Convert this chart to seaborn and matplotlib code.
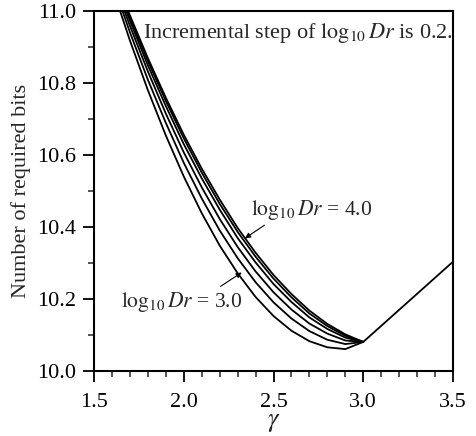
import numpy as np
import pandas as pd
import matplotlib
matplotlib.use("Agg")
import matplotlib.pyplot as plt
import seaborn as sns
from matplotlib.ticker import MultipleLocator

# ---- data ----
gamma = [1.6, 1.7, 1.8, 1.9, 2.0, 2.1, 2.2, 2.3, 2.4, 2.5, 2.6, 2.7, 2.8, 2.9, 3.0]
log_dr = ["3.0", "3.2", "3.4", "3.6", "3.8", "4.0"]
bits_30 = [11.068, 10.918, 10.780, 10.654, 10.540, 10.438, 10.348, 10.271, 10.205, 10.152, 10.111, 10.082, 10.065, 10.060, 10.080]
bits_32 = [11.084, 10.941, 10.809, 10.689, 10.578, 10.479, 10.390, 10.313, 10.246, 10.190, 10.145, 10.110, 10.086, 10.074, 10.080]
bits_34 = [11.095, 10.959, 10.832, 10.715, 10.607, 10.510, 10.422, 10.344, 10.276, 10.218, 10.170, 10.131, 10.103, 10.084, 10.080]
bits_36 = [11.105, 10.973, 10.849, 10.736, 10.630, 10.535, 10.448, 10.369, 10.301, 10.241, 10.191, 10.148, 10.116, 10.092, 10.080]
bits_38 = [11.111, 10.982, 10.861, 10.750, 10.646, 10.551, 10.464, 10.386, 10.317, 10.256, 10.204, 10.159, 10.124, 10.097, 10.080]
bits_40 = [11.115, 10.988, 10.869, 10.759, 10.656, 10.562, 10.476, 10.397, 10.328, 10.266, 10.213, 10.167, 10.130, 10.101, 10.080]
gamma_right = [3.0, 3.5]
bits_right = [10.080, 10.303]

series = [bits_30, bits_32, bits_34, bits_36, bits_38, bits_40]
rows = []
for name, vals in zip(log_dr, series):
    for g, v in zip(gamma, vals):
        rows.append({"gamma": g, "bits": v, "curve": name})
for g, v in zip(gamma_right, bits_right):
    rows.append({"gamma": g, "bits": v, "curve": "shared"})
df = pd.DataFrame(rows)

sns.set_style("ticks")
plt.rcParams["font.family"] = ["Liberation Serif", "DejaVu Serif"]
plt.rcParams["mathtext.fontset"] = "stix"

fig = plt.figure(figsize=(4.76, 4.36), dpi=100)
ax = fig.add_axes([0.1975, 0.1498, 0.7542, 0.825])

sns.lineplot(data=df, x="gamma", y="bits", units="curve", estimator=None,
             color="black", linewidth=1.3, ax=ax, legend=False, sort=False)

ax.set_xlim(1.5, 3.5)
ax.set_ylim(10.0, 11.0)
ax.xaxis.set_major_locator(MultipleLocator(0.5))
ax.xaxis.set_minor_locator(MultipleLocator(0.1))
ax.yaxis.set_major_locator(MultipleLocator(0.2))
ax.yaxis.set_minor_locator(MultipleLocator(0.1))
ax.set_xticklabels([f"{v:.1f}" for v in ax.get_xticks()])
ax.set_yticklabels([f"{v:.1f}" for v in ax.get_yticks()])
ax.tick_params(which="major", direction="out", length=8, width=1.3, labelsize=16,
               colors="black", pad=5)
ax.tick_params(axis="x", which="major", pad=8)
ax.tick_params(which="minor", direction="out", length=4, width=1.1)
for s in ax.spines.values():
    s.set_visible(True)
    s.set_linewidth(1.5)
    s.set_color("black")

ax.set_xlabel(r"$\gamma$", fontsize=19, labelpad=0)
ax.set_ylabel("Number of required bits", fontsize=16, labelpad=4)

ax.text(1.775, 10.94, r"Incremental step of $\log_{10}Dr$ is 0.2.", fontsize=16,
        ha="left", va="center")
ax.annotate(r"$\log_{10}Dr$ = 4.0", xy=(2.341, 10.368), xytext=(2.375, 10.447),
            fontsize=15.5, ha="left", va="center",
            arrowprops=dict(arrowstyle="-|>", color="black", lw=0.8,
                            mutation_scale=8, shrinkA=0, shrinkB=0,
                            relpos=(0.15, 0.0)),
            )
ax.annotate(r"$\log_{10}Dr$ = 3.0", xy=(2.323, 10.273), xytext=(1.65, 10.192),
            fontsize=15.5, ha="left", va="center",
            arrowprops=dict(arrowstyle="-|>", color="black", lw=0.8,
                            mutation_scale=8, shrinkA=0, shrinkB=0,
                            relpos=(0.78, 1.0)),
            )

fig.savefig("out.png", dpi=100)
